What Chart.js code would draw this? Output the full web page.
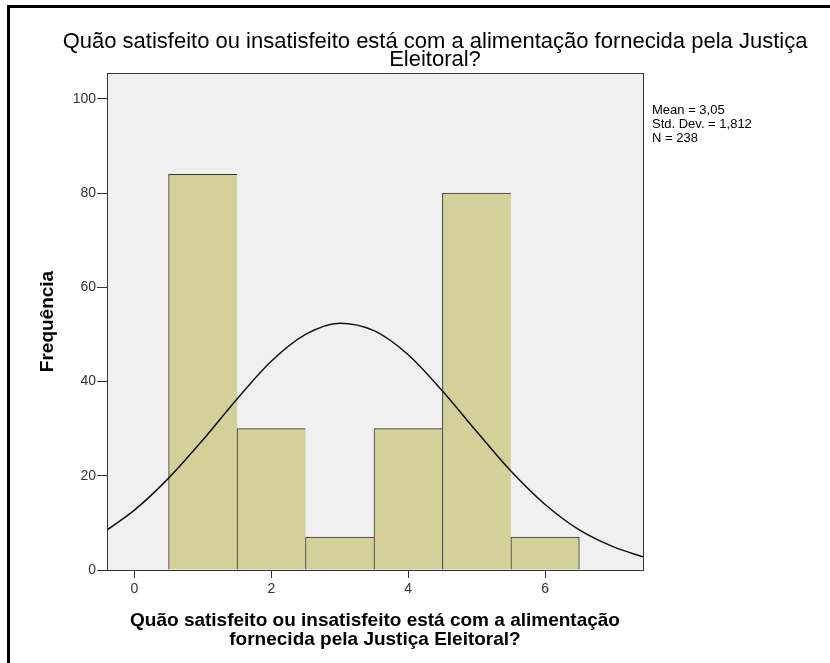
<!DOCTYPE html>
<html>
<head>
<meta charset="utf-8">
<script src="https://cdn.jsdelivr.net/npm/chart.js@4"></script>
<style>
  body { margin: 0; background: #fff; overflow: hidden; width: 830px; height: 663px; position: relative; }
  #frame { position: absolute; left: 7px; top: 5px; width: 900px; height: 700px; border-left: 3px solid #000; border-top: 3px solid #000; }
  #wrap { position: absolute; left: 10px; top: 8px; width: 850px; height: 655px; }
</style>
</head>
<body>
<div id="frame"></div>
<div id="wrap"><canvas id="chart"></canvas></div>
<script>
// histogram bins (centers) and counts
const binCenters = [1, 2, 3, 4, 5, 6];
const frequencies = [84, 30, 7, 30, 80, 7];

// normal curve
const curveX = [-0.4, 0, 0.5, 1, 1.5, 2, 2.5, 3, 3.5, 4, 4.5, 5, 5.5, 6, 6.5, 7, 7.43];
const curveY = [8.5, 12.7, 19.5, 27.6, 36.3, 44.3, 50.0, 52.4, 50.8, 45.7, 38.0, 29.4, 21.0, 13.9, 8.5, 4.9, 2.8];

const xTicks = [0, 2, 4, 6];
const yTicks = [0, 20, 40, 60, 80, 100];
const statLines = ['Mean = 3,05', 'Std. Dev. = 1,812', 'N = 238'];

const titleLines = ['Quão satisfeito ou insatisfeito está com a alimentação fornecida pela Justiça', 'Eleitoral?'];
const xTitle = ['Quão satisfeito ou insatisfeito está com a alimentação', 'fornecida pela Justiça Eleitoral?'];
const yTitle = 'Frequência';

const FONT = '"Liberation Sans", Arial, sans-serif';

const plotFrame = {
  id: 'plotFrame',
  beforeDraw(chart) {
    const { ctx, chartArea: a } = chart;
    ctx.save();
    ctx.fillStyle = '#f0f0f0';
    ctx.fillRect(a.left, a.top, a.right - a.left, a.bottom - a.top);
    ctx.restore();
  },
  afterDraw(chart) {
    const { ctx, chartArea: a } = chart;
    ctx.save();
    ctx.strokeStyle = '#333';
    ctx.lineWidth = 1;
    ctx.strokeRect(Math.round(a.left) + 0.5, Math.round(a.top) + 0.5, Math.round(a.right - a.left), Math.round(a.bottom - a.top));
    ctx.fillStyle = '#000';
    ctx.font = '13px ' + FONT;
    ctx.textBaseline = 'middle';
    statLines.forEach((t, i) => ctx.fillText(t, a.right + 9, 102 + i * 14));
    ctx.restore();
  }
};

const last = frequencies.length - 1;

new Chart(document.getElementById('chart'), {
  type: 'bar',
  data: {
    datasets: [
      {
        type: 'line',
        data: curveX.map((x, i) => ({ x: x, y: curveY[i] })),
        borderColor: '#111',
        borderWidth: 1.5,
        pointRadius: 0,
        cubicInterpolationMode: 'monotone',
        fill: false,
        order: 0
      },
      {
        type: 'bar',
        data: binCenters.map((x, i) => ({ x: x, y: frequencies[i] })),
        backgroundColor: '#d3d09a',
        borderColor: '#333',
        borderWidth: ctx => ({ top: 1, left: 1, bottom: 0, right: ctx.dataIndex === last ? 1 : 0 }),
        borderSkipped: false,
        barPercentage: 1,
        categoryPercentage: 1,
        order: 1
      }
    ]
  },
  options: {
    responsive: true,
    maintainAspectRatio: false,
    animation: false,
    layout: { padding: 0 },
    plugins: {
      legend: { display: false },
      tooltip: { enabled: false },
      title: {
        display: true,
        text: titleLines,
        color: '#000',
        font: { family: FONT, size: 22, weight: 'normal', lineHeight: '18px' },
        padding: { top: 25, bottom: 4 }
      }
    },
    scales: {
      x: {
        type: 'linear',
        min: -0.4,
        max: 7.43,
        offset: false,
        afterBuildTicks: s => { s.ticks = xTicks.map(v => ({ value: v })); },
        afterFit: s => { s.height = 93; },
        grid: { display: true, drawOnChartArea: false, offset: false, tickLength: 8, color: '#333', tickWidth: 1 },
        border: { display: true, color: '#333', width: 1 },
        ticks: { color: '#333', font: { family: FONT, size: 14 }, padding: 3, maxRotation: 0 },
        title: {
          display: true,
          text: xTitle,
          color: '#000',
          font: { family: FONT, size: 19, weight: 'bold', lineHeight: '19px' },
          padding: { top: 0, bottom: 14 }
        }
      },
      y: {
        min: 0,
        max: 105.5,
        afterBuildTicks: s => { s.ticks = yTicks.map(v => ({ value: v })); },
        afterFit: s => { s.width = 97; },
        grid: { display: true, drawOnChartArea: false, tickLength: 10, color: '#333', tickWidth: 1 },
        border: { display: true, color: '#333', width: 1 },
        ticks: { color: '#333', font: { family: FONT, size: 14 }, padding: 1 },
        title: {
          display: true,
          text: yTitle,
          color: '#000',
          font: { family: FONT, size: 19, weight: 'bold', lineHeight: '22px' },
          padding: { top: 27 }
        }
      },
      side: {
        type: 'linear',
        position: 'right',
        display: true,
        afterFit: s => { s.width = 217; },
        grid: { display: false },
        border: { display: false },
        ticks: { display: false }
      }
    }
  },
  plugins: [plotFrame]
});
</script>
</body>
</html>
